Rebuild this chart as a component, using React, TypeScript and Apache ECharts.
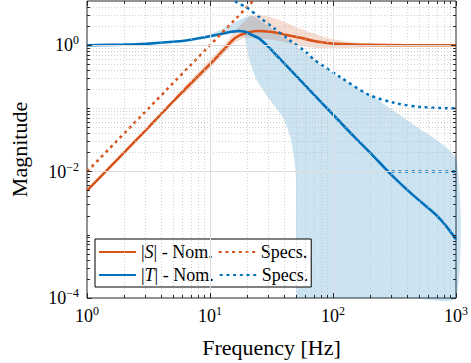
import React, { useEffect, useRef } from 'react';
import * as echarts from 'echarts';

const FONT = '"Liberation Serif", "DejaVu Serif", serif';
const ORANGE = '#D95319';
const BLUE = '#0072BD';

// |S| nominal
const freqS = [1, 2, 3, 5, 7, 10, 13, 16, 19, 24, 32, 40, 53, 76, 100, 150, 200, 400, 1000];
const magS = [0.005, 0.02, 0.045, 0.128, 0.25, 0.5, 0.86, 1.3, 1.53, 1.68, 1.62, 1.48, 1.32, 1.13, 1.06, 1.02, 1.01, 1.0, 1.0];

// |T| nominal
const freqT = [1, 2, 3, 5, 7, 10, 12.5, 15, 17, 19, 22, 25, 30, 35, 40, 50, 70, 100, 150, 200, 300, 450, 700, 850, 1000];
const magT = [1.0, 1.02, 1.05, 1.13, 1.22, 1.38, 1.52, 1.63, 1.68, 1.64, 1.45, 1.28, 0.93, 0.68, 0.52, 0.33, 0.165, 0.08, 0.035, 0.02, 0.0088, 0.0042, 0.002, 0.0013, 0.00085];

// S specification
const freqSSpec = [1, 10, 25];
const magSSpec = [0.01, 1, 6.25];

// T specifications
const freqTSpec = [14.5, 16.4, 20, 26.2, 33.4, 42.7, 61.4, 69.4, 113, 196, 318, 518, 1000];
const magTSpec = [5.8, 4.8, 3.9, 2.62, 1.83, 1.27, 0.76, 0.6, 0.318, 0.164, 0.122, 0.105, 0.1];
const freqTSpec2 = [300, 1000];
const magTSpec2 = [0.01, 0.01];

// uncertainty bands
const bandSFreq = [6, 8, 10, 13, 16, 19, 21, 24, 29, 39, 53, 76, 100, 150, 250, 400];
const bandSUpper = [0.2, 0.37, 0.6, 1.0, 1.7, 2.4, 2.85, 2.95, 2.9, 2.4, 1.85, 1.45, 1.25, 1.1, 1.04, 1.01];
const bandSLower = [0.16, 0.28, 0.43, 0.74, 1.1, 1.3, 1.32, 1.28, 1.25, 1.13, 0.97, 0.9, 0.89, 0.91, 0.95, 0.99];

const bandTFreq = [8, 10, 13, 16, 18.6, 20, 21.5, 24, 27.8, 33.4, 40, 45.6, 49, 50, 50.5, 55, 70, 100, 150, 220, 430, 1000];
const bandTUpper = [1.28, 1.5, 1.85, 2.3, 2.7, 2.85, 2.95, 2.7, 2.2, 1.7, 1.3, 1.1, 1.0, 0.97, 0.95, 0.85, 0.58, 0.36, 0.22, 0.146, 0.059, 0.0158];
const bandTLower = [1.22, 1.32, 1.45, 1.55, 1.54, 0.835, 0.485, 0.28, 0.177, 0.11, 0.067, 0.032, 0.013, 0.0076, 1e-6, 1e-6, 1e-6, 1e-6, 1e-6, 1e-6, 1e-6, 1e-6];

// axes
const X_MIN = 1, X_MAX = 1000, Y_MIN = 1e-4, Y_MAX = 5;
const xDecades = [1, 10, 100];
const yDecades = [1e-4, 1e-3, 1e-2, 1e-1, 1];
const multipliers = [2, 3, 4, 5, 6, 7, 8, 9];
const xMajorTicks = [1, 10, 100, 1000];
const yMajorTicks = [1e-4, 1e-2, 1];
const xMajorGrid = [10, 100];
const yMajorGrid = [1e-2, 1];

const legendNames: Record<string, string> = {
  Snom: '|{i|S}| - Nom.',
  Sspec: 'Specs.',
  Tnom: '|{i|T}| - Nom.',
  Tspec: 'Specs.',
};

const GRID = { left: 78, right: 15, top: 1, bottom: 63 };
const W = 471, H = 363;

function supLabel(v: number, onlyEven: boolean) {
  const lg = Math.log10(v);
  const k = Math.round(lg);
  if (Math.abs(lg - k) > 0.01) return '';
  if (onlyEven && k % 2 !== 0) return '';
  const e = k < 0 ? '\u2212' + -k : String(k);
  return `{b|10}{s|${e}}`;
}

const richSup = {
  b: { fontFamily: FONT, fontSize: 18, color: '#000', lineHeight: 22 },
  s: { fontFamily: FONT, fontSize: 12, color: '#000', lineHeight: 12, verticalAlign: 'top' },
};

export default function App() {
  const ref = useRef<HTMLDivElement>(null);
  useEffect(() => {
    const chart = echarts.init(ref.current!, null, { renderer: 'svg' });

    const plotW = W - GRID.left - GRID.right;
    const plotH = H - GRID.top - GRID.bottom;
    const pxDecX = plotW / Math.log10(X_MAX / X_MIN);
    const pxDecY = plotH / Math.log10(Y_MAX / Y_MIN);
    const fx = (px: number) => Math.pow(10, px / pxDecX);
    const fy = (px: number) => Math.pow(10, px / pxDecY);

    const xMinor = xDecades.flatMap((d) => multipliers.map((m) => m * d));
    const yMinor = yDecades
      .flatMap((d) => multipliers.map((m) => m * d))
      .concat([1e-3, 1e-1])
      .filter((v) => v < Y_MAX);

    const minorStyle = { color: '#c4c4c4', width: 0.8, type: [1, 2] as any };
    const majorStyle = { color: '#dedede', width: 1, type: 'solid' as any };
    const tickStyle = { color: '#262626', width: 1, type: 'solid' as any };

    const markData: any[] = [];
    xMinor.forEach((v) => markData.push({ xAxis: v, lineStyle: minorStyle }));
    yMinor.forEach((v) => markData.push({ yAxis: v, lineStyle: minorStyle }));
    xMajorGrid.forEach((v) => markData.push({ xAxis: v, lineStyle: majorStyle }));
    yMajorGrid.forEach((v) => markData.push({ yAxis: v, lineStyle: majorStyle }));

    const addXTick = (v: number, len: number) => {
      markData.push([{ coord: [v, Y_MIN], lineStyle: tickStyle }, { coord: [v, Y_MIN * fy(len)] }]);
      markData.push([{ coord: [v, Y_MAX], lineStyle: tickStyle }, { coord: [v, Y_MAX / fy(len)] }]);
    };
    const addYTick = (v: number, len: number) => {
      markData.push([{ coord: [X_MIN, v], lineStyle: tickStyle }, { coord: [X_MIN * fx(len), v] }]);
      markData.push([{ coord: [X_MAX, v], lineStyle: tickStyle }, { coord: [X_MAX / fx(len), v] }]);
    };
    xMinor.forEach((v) => addXTick(v, 3));
    xMajorTicks.forEach((v) => addXTick(v, 5));
    yMinor.forEach((v) => addYTick(v, 3));
    yMajorTicks.forEach((v) => addYTick(v, 5));

    const band = (freq: number[], lower: number[], upper: number[], fill: string) => ({
      type: 'custom',
      z: 2,
      silent: true,
      data: freq.map((f, i) => [f, lower[i], upper[i]]),
      encode: { x: 0, y: [1, 2] },
      renderItem: (params: any, api: any) => {
        if (params.dataIndex !== 0) return null;
        const cs = params.coordSys;
        const top = cs.y, bottom = cs.y + cs.height;
        const clamp = (p: number[]) => [p[0], Math.min(bottom, Math.max(top, p[1]))];
        const pts: number[][] = [];
        for (let i = 0; i < freq.length; i++) pts.push(clamp(api.coord([freq[i], upper[i]])));
        for (let i = freq.length - 1; i >= 0; i--) pts.push(clamp(api.coord([freq[i], lower[i]])));
        return { type: 'polygon', shape: { points: pts, smooth: 0.2 }, style: { fill, stroke: null } };
      },
    });

    const line = (name: string, fr: number[], mg: number[], color: string, dotted: boolean, smooth = 0.3) => ({
      name,
      type: 'line',
      z: 3,
      data: fr.map((f, i) => [f, mg[i]]),
      showSymbol: false,
      symbol: 'none',
      smooth,
      clip: true,
      silent: true,
      itemStyle: { color },
      lineStyle: dotted
        ? { color, width: 2.5, type: [3, 3.7], cap: 'butt' }
        : { color, width: 2.6 },
    });

    const option: any = {
      animation: false,
      backgroundColor: '#fff',
      grid: { ...GRID, show: true, borderColor: '#262626', borderWidth: 1, backgroundColor: 'transparent' },
      legend: {
        left: 95,
        top: 239,
        width: 250,
        data: ['Snom', 'Sspec', 'Tnom', 'Tspec'],
        formatter: (n: string) => legendNames[n],
        itemWidth: 37,
        itemHeight: 14,
        itemGap: 5,
        padding: [4, 3, 3, 3],
        borderColor: '#000',
        borderWidth: 1,
        borderRadius: 0,
        backgroundColor: '#fff',
        selectedMode: false,
        itemStyle: { opacity: 0 },
        textStyle: {
          fontFamily: FONT,
          fontSize: 18,
          color: '#000',
          rich: { i: { fontFamily: FONT, fontSize: 18, fontStyle: 'italic', color: '#000' } },
        },
      },
      xAxis: {
        type: 'log',
        logBase: 10,
        min: X_MIN,
        max: X_MAX,
        axisLine: { show: false },
        axisTick: { show: false },
        splitLine: { show: false },
        axisLabel: {
          formatter: (v: number) => supLabel(v, false),
          rich: richSup,
          margin: 7,
          showMinLabel: true,
          showMaxLabel: true,
        },
        name: 'Frequency [Hz]',
        nameLocation: 'middle',
        nameGap: 38,
        nameTextStyle: { fontFamily: FONT, fontSize: 22, color: '#000' },
      },
      yAxis: {
        type: 'log',
        logBase: 10,
        min: Y_MIN,
        max: Y_MAX,
        axisLine: { show: false },
        axisTick: { show: false },
        splitLine: { show: false },
        axisLabel: {
          formatter: (v: number) => supLabel(v, true),
          rich: richSup,
          margin: 8,
          showMinLabel: true,
          showMaxLabel: false,
        },
        name: 'Magnitude',
        nameLocation: 'middle',
        nameGap: 57,
        nameRotate: 90,
        nameTextStyle: { fontFamily: FONT, fontSize: 22, color: '#000' },
      },
      series: [
        {
          type: 'line',
          z: 1,
          silent: true,
          data: [],
          markLine: { silent: true, symbol: ['none', 'none'], label: { show: false }, animation: false, data: markData },
        },
        band(bandSFreq, bandSLower, bandSUpper, 'rgba(217,83,25,0.2)'),
        band(bandTFreq, bandTLower, bandTUpper, 'rgba(0,114,189,0.2)'),
        line('Snom', freqS, magS, ORANGE, false),
        line('Tnom', freqT, magT, BLUE, false),
        line('Sspec', freqSSpec, magSSpec, ORANGE, true, 0),
        line('Tspec', freqTSpec, magTSpec, BLUE, true),
        line('Tspec2', freqTSpec2, magTSpec2, BLUE, true, 0),
      ],
    };

    chart.setOption(option);
    return () => chart.dispose();
  }, []);

  return <div ref={ref} style={{ position: 'fixed', left: 0, top: 0, width: W, height: H }} />;
}
